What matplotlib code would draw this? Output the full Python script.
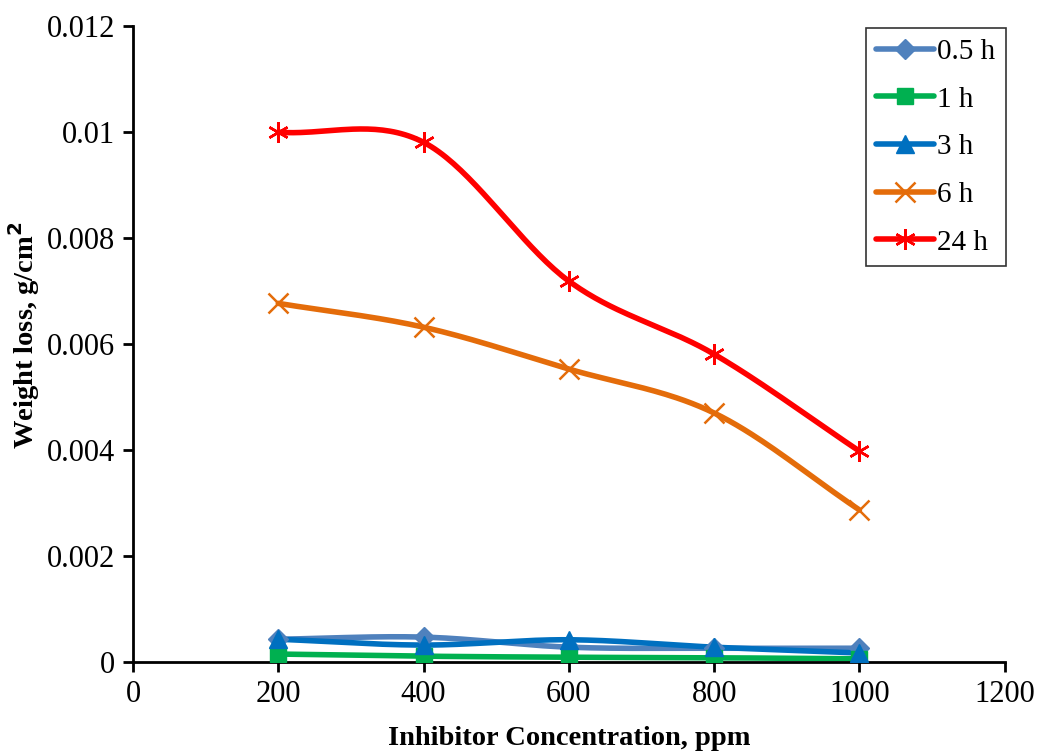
import numpy as np
import matplotlib
matplotlib.use("Agg")
import matplotlib.pyplot as plt
from matplotlib.lines import Line2D

conc = [200, 400, 600, 800, 1000]
wl_05h = [0.00043, 0.00047, 0.00028, 0.00026, 0.00026]
wl_1h = [0.00015, 0.00011, 0.00009, 0.00008, 0.00006]
wl_3h = [0.00043, 0.00032, 0.00042, 0.00028, 0.00017]
wl_6h = [0.00677, 0.00632, 0.00553, 0.00470, 0.00287]
wl_24h = [0.01000, 0.00981, 0.00719, 0.00581, 0.00398]
labels = ["0.5 h", "1 h", "3 h", "6 h", "24 h"]

plt.rcParams['font.family'] = ['Liberation Serif', 'DejaVu Serif']


def smooth(x, y, n=40):
    x = np.asarray(x, float)
    y = np.asarray(y, float)
    px = np.concatenate([[2 * x[0] - x[1]], x, [2 * x[-1] - x[-2]]])
    py = np.concatenate([[2 * y[0] - y[1]], y, [2 * y[-1] - y[-2]]])
    xs, ys = [], []
    for i in range(1, len(px) - 2):
        p0, p1, p2, p3 = (np.array([px[j], py[j]]) for j in (i - 1, i, i + 1, i + 2))
        c1 = p1 + (p2 - p0) / 6
        c2 = p2 - (p3 - p1) / 6
        t = np.linspace(0, 1, n)[:, None]
        pts = ((1 - t) ** 3) * p1 + 3 * ((1 - t) ** 2) * t * c1 + 3 * (1 - t) * t ** 2 * c2 + t ** 3 * p2
        xs.append(pts[:, 0]); ys.append(pts[:, 1])
    return np.concatenate(xs), np.concatenate(ys)


fig = plt.figure(figsize=(10.39, 7.51), dpi=100)
ax = fig.add_axes([0.128, 0.1185, 0.839, 0.8465])

LW = 4
series = [
    (wl_05h, '#4F81BD', 'D', 10),
    (wl_1h, '#00B050', 's', 11),
    (wl_3h, '#0070C0', '^', 13),
    (wl_6h, '#E46C0A', 'x', 15),
    (wl_24h, '#FF0000', (6, 2, 0), 15),
]
handles = []
for (vals, col, mk, ms), lab in zip(series, labels):
    sx, sy = smooth(conc, vals)
    ax.plot(sx, sy, color=col, lw=LW, solid_capstyle='round', zorder=2)
    kw = dict(marker=mk, ms=ms, mec=col, color=col)
    if mk == 'x' or isinstance(mk, tuple):
        kw['mew'] = 1.8
    ax.plot(conc, vals, ls='none', zorder=3, **kw)
    handles.append(Line2D([], [], lw=LW, solid_capstyle='round', **kw))

ax.set_xlim(0, 1200)
ax.set_ylim(0, 0.012)
ax.set_xticks(range(0, 1201, 200))
ax.set_yticks([0, 0.002, 0.004, 0.006, 0.008, 0.01, 0.012])
ax.set_yticklabels(['0', '0.002', '0.004', '0.006', '0.008', '0.01', '0.012'])
ax.spines['top'].set_visible(False)
ax.spines['right'].set_visible(False)
ax.spines['left'].set_linewidth(2)
ax.spines['bottom'].set_linewidth(2)
ax.tick_params(axis='both', direction='out', length=7, width=2, labelsize=22)
ax.tick_params(axis='x', pad=6)
ax.tick_params(axis='y', pad=6)
ax.set_xlabel('Inhibitor Concentration, ppm', fontsize=20.5, fontweight='bold', labelpad=12)
ax.set_ylabel('Weight loss, g/cm$^\\mathbf{2}$', fontsize=20.5, fontweight='bold')
ax.yaxis.set_label_coords(-0.104, 0.514)

leg = ax.legend(handles, labels, loc='upper right', bbox_to_anchor=(1.001, 0.997), fontsize=21,
                frameon=True, fancybox=False, edgecolor='black', handlelength=2.0,
                handletextpad=0.1, labelspacing=0.73, borderpad=0.35, borderaxespad=0.0)
leg.get_frame().set_linewidth(1.2)

fig.savefig('out.png', dpi=100)
